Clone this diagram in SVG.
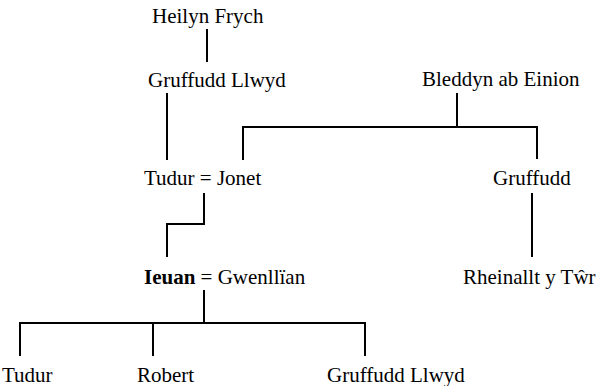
<svg xmlns="http://www.w3.org/2000/svg" width="599" height="386" viewBox="0 0 599 386">
  <style>
    .b { font-weight: bold; }
    #connectors path { fill: none; stroke: #000; stroke-width: 2; }
  </style>
  <rect width="599" height="386" fill="#fff"/>
  <g id="connectors">
    <path d="M207,29 V62"/>
    <path d="M167,93 V160"/>
    <path d="M457,93 V127"/>
    <path d="M243,160 V127 H537 V159"/>
    <path d="M532,193 V257"/>
    <path d="M204,193 V224 H167 V257"/>
    <path d="M204,290 V323"/>
    <path d="M20,356 V323 H365 V356"/>
    <path d="M153,323 V356"/>
  </g>
  <g font-family="Liberation Serif, Times New Roman, serif" font-size="21" fill="#000">
    <g id="heilyn"><text x="152" y="23">Heilyn Frych</text></g>
    <g id="gruffudd-llwyd"><text x="148" y="87">Gruffudd Llwyd</text></g>
    <g id="bleddyn"><text x="422" y="86">Bleddyn ab Einion</text></g>
    <g id="tudur-jonet"><text x="144" y="185">Tudur = Jonet</text></g>
    <g id="gruffudd"><text x="493" y="185">Gruffudd</text></g>
    <g id="ieuan-gwenllian"><text x="144" y="284"><tspan class="b">Ieuan</tspan> = Gwenllïan</text></g>
    <g id="rheinallt"><text x="463" y="284">Rheinallt y Tŵr</text></g>
    <g id="tudur"><text x="2" y="382">Tudur</text></g>
    <g id="robert"><text x="137" y="382">Robert</text></g>
    <g id="gruffudd-llwyd-2"><text x="327" y="382">Gruffudd Llwyd</text></g>
  </g>
</svg>
